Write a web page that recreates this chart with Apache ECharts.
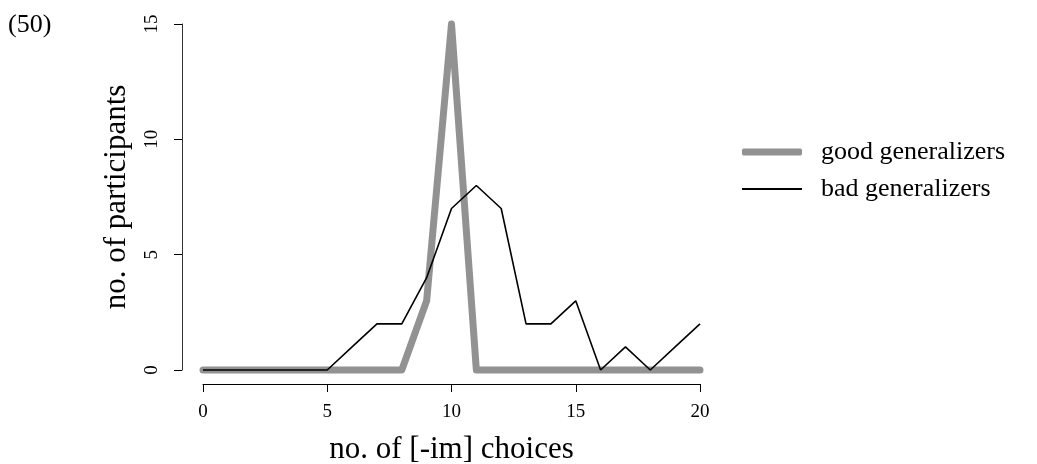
<!DOCTYPE html>
<html>
<head>
<meta charset="utf-8">
<script src="https://cdn.jsdelivr.net/npm/echarts@6/dist/echarts.min.js"></script>
<style>
html, body { margin: 0; padding: 0; background: #fff; }
#chart { width: 1037px; height: 464px; }
</style>
</head>
<body>
<div id="chart"></div>
<script>
// number of [-im] choices, 0..20
const choices = [0, 1, 2, 3, 4, 5, 6, 7, 8, 9, 10, 11, 12, 13, 14, 15, 16, 17, 18, 19, 20];
const goodGeneralizers = [0, 0, 0, 0, 0, 0, 0, 0, 0, 3, 15, 0, 0, 0, 0, 0, 0, 0, 0, 0, 0];
const badGeneralizers = [0, 0, 0, 0, 0, 0, 1, 2, 2, 4, 7, 8, 7, 2, 2, 3, 0, 1, 0, 1, 2];
const xTicks = [0, 5, 10, 15, 20];
const yTicks = [0, 5, 10, 15];

const font = 'Liberation Serif, DejaVu Serif, serif';

function pairs(ys) {
    return choices.map((c, i) => [c, ys[i]]);
}

let legendText = { fontFamily: font, fontSize: 26, color: '#000', padding: [0, 0, 0, 14] };

let chart = echarts.init(document.getElementById('chart'));
chart.setOption({
    backgroundColor: '#ffffff',
    animation: false,
    textStyle: { fontFamily: font, color: '#000' },
    graphic: [{
        type: 'text',
        left: 8,
        top: 12,
        style: { text: '(50)', font: '26px ' + font, fill: '#000' }
    }],
    legend: [
        {
            left: 737,
            top: 134,
            icon: 'roundRect',
            itemWidth: 60,
            itemHeight: 7,
            textStyle: legendText,
            data: ['good generalizers']
        },
        {
            left: 737,
            top: 171,
            icon: 'rect',
            itemWidth: 60,
            itemHeight: 2,
            textStyle: legendText,
            data: ['bad generalizers']
        }
    ],
    grid: { left: 203, right: 337, top: 24, bottom: 94, outerBoundsMode: 'none' },
    xAxis: {
        type: 'value',
        min: xTicks[0],
        max: xTicks[xTicks.length - 1],
        interval: 5,
        offset: 14,
        splitLine: { show: false },
        axisLine: { show: true, onZero: false, lineStyle: { color: '#000', width: 1 } },
        axisTick: { show: true, length: 8, lineStyle: { color: '#000' } },
        axisLabel: { margin: 19, fontSize: 19, color: '#000', fontFamily: font },
        name: 'no. of [-im] choices',
        nameLocation: 'middle',
        nameGap: 50,
        nameTextStyle: { fontSize: 31, color: '#000', fontFamily: font }
    },
    yAxis: {
        type: 'value',
        min: yTicks[0],
        max: yTicks[yTicks.length - 1],
        interval: 5,
        offset: 21,
        splitLine: { show: false },
        axisLine: { show: true, onZero: false, lineStyle: { color: '#333', width: 1 } },
        axisTick: { show: true, length: 8, lineStyle: { color: '#000' } },
        axisLabel: { rotate: 90, margin: 20, fontSize: 19, color: '#000', fontFamily: font },
        name: 'no. of participants',
        nameLocation: 'middle',
        nameGap: 50,
        nameTextStyle: { fontSize: 31, color: '#000', fontFamily: font }
    },
    series: [
        {
            name: 'good generalizers',
            type: 'line',
            data: pairs(goodGeneralizers),
            symbol: 'none',
            clip: false,
            color: '#929292',
            lineStyle: { color: '#929292', width: 7, cap: 'round', join: 'round' }
        },
        {
            name: 'bad generalizers',
            type: 'line',
            data: pairs(badGeneralizers),
            symbol: 'none',
            clip: false,
            color: '#000',
            lineStyle: { color: '#000', width: 1.6 }
        }
    ]
});
</script>
</body>
</html>
